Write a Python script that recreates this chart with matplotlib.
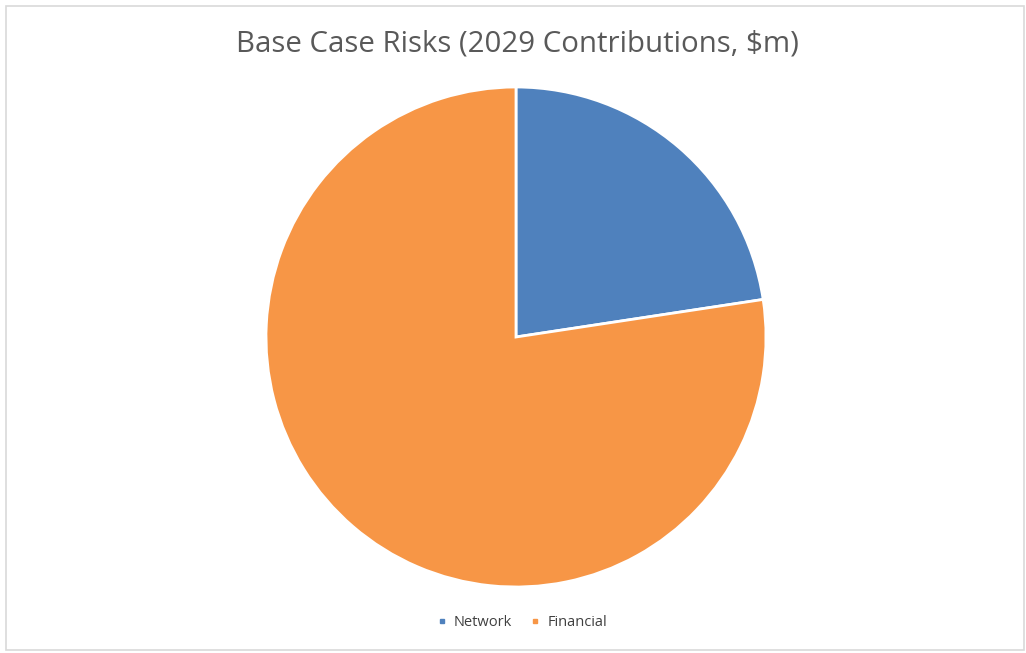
import matplotlib.pyplot as plt
from matplotlib.patches import Rectangle
from matplotlib.lines import Line2D

labels = ['Network', 'Financial']
values = [22.6, 77.4]
colors = ['#4F81BD', '#F79646']

W, H = 1026, 653
fig = plt.figure(figsize=(W / 100, H / 100), dpi=100)
plt.rcParams['font.family'] = ['Open Sans', 'DejaVu Sans']

# chart frame
fig.patches.append(Rectangle((6 / W, 3 / H), 1018 / W, 644 / H, transform=fig.transFigure,
                             fill=False, edgecolor='#D9D9D9', linewidth=1.2))

cx, cy, r = 516, 653 - 337, 250
ax = fig.add_axes([(cx - r) / W, (cy - r) / H, 2 * r / W, 2 * r / H])
ax.pie(values, colors=colors, startangle=90, counterclock=False, radius=1,
       wedgeprops=dict(edgecolor='white', linewidth=2))
ax.set_xlim(-1, 1)
ax.set_ylim(-1, 1)
ax.set_aspect('equal')
ax.axis('off')

fig.text(517 / W, 1 - 44 / H, 'Base Case Risks (2029 Contributions, $m)', ha='center', va='center',
         fontsize=21.2, color='#595959')

handles = [Line2D([], [], marker='s', linestyle='', markersize=3, color=c) for c in colors]
fig.legend(handles, labels, loc='center', bbox_to_anchor=(521 / W, 1 - 623 / H), ncol=2, frameon=False,
           fontsize=10.5, labelcolor='#404040', handlelength=0.9, handletextpad=0.4, columnspacing=1.1)

fig.savefig('out.png', dpi=100)
